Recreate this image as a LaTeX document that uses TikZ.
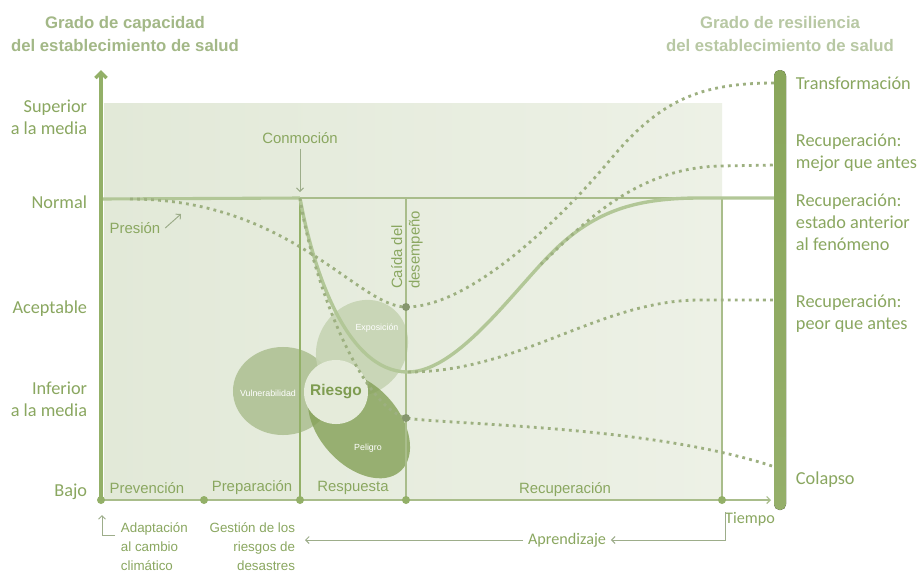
\documentclass[tikz,border=0pt]{standalone}
\usepackage{fontspec}
\setmainfont{Carlito}
\newfontfamily\robofont{Liberation Sans}
\usetikzlibrary{arrows.meta, shapes.geometric}

\definecolor{axisgreen}{HTML}{93B068}
\definecolor{textgreen}{HTML}{8AA760}
\definecolor{titlegreen}{HTML}{A3B887}
\definecolor{titlepale}{HTML}{B8C8A4}
\definecolor{dotgreen}{HTML}{9DB080}
\definecolor{curvegreen}{HTML}{B2C797}
\definecolor{thingreen}{HTML}{A9BD8B}
\definecolor{arrowgray}{HTML}{9DAD8A}
\definecolor{bgleft}{HTML}{E2E9D8}
\definecolor{bgright}{HTML}{EDF1E6}
\definecolor{vulngreen}{HTML}{B4C59B}
\definecolor{expogreen}{HTML}{C6D4B3}
\definecolor{peligreen}{HTML}{84A056}
\definecolor{riesgofill}{HTML}{E5EBDA}
\definecolor{riesgotext}{HTML}{7E9C50}
\definecolor{bartop}{HTML}{89A65B}
\definecolor{barmid}{HTML}{BDCEA6}
\definecolor{barbot}{HTML}{95AF6A}

\tikzset{
	scalelabel/.style = {font = \fontsize{13}{15.6}\selectfont, text = textgreen, align = right, anchor = east},
	outcome/.style = {font = \fontsize{13}{15.6}\selectfont, text = textgreen, align = left, anchor = west},
	phasename/.style = {font = \robofont\fontsize{10.6}{12.5}\selectfont, text = textgreen},
	headline/.style = {font = \robofont\bfseries\fontsize{11.9}{16.3}\selectfont, align = center},
	notetext/.style = {font = \robofont\fontsize{9.5}{13.5}\selectfont, text = textgreen},
	learntext/.style = {font = \fontsize{11.5}{13}\selectfont, text = textgreen},
	pathdot/.style = {dotgreen, line width = 2pt, dash pattern = on 2pt off 3pt},
	thinline/.style = {thingreen, line width = 0.8pt},
	labelarrow/.style = {arrowgray, line width = 0.7pt},
	tickdot/.style = {circle, fill = axisgreen, inner sep = 0pt, minimum size = 0.2cm},
	blob/.style = {ellipse, inner sep = 0pt},
	blobtext/.style = {font = \robofont\fontsize{6.3}{7}\selectfont, text = white}
}

\begin{document}
\begin{tikzpicture}[x = 0.025cm, y = -0.025cm, > = {Straight Barb[length = 2.5pt, width = 5pt]}]

	% Canvas and chart area
	
	\fill [white] (0, 0) rectangle (920, 574);
	\useasboundingbox (0, 0) rectangle (920, 574);
	\fill [left color = bgleft, right color = bgright] (104, 103) rectangle (722, 500);
	
	% Risk diagram
	
	\node [blob, fill = vulngreen, minimum width = 2.5cm, minimum height = 2.2cm] (vuln) at (283, 391) {};
	\node [blob, fill = expogreen, fill opacity = 0.9, minimum width = 2.5cm, minimum height = 2.2cm, rotate = 55] (expo) at (362, 348) {};
	\node [blob, fill = peligreen, fill opacity = 0.8, minimum width = 3.1cm, minimum height = 2cm, rotate = -48] (peli) at (359, 425) {};
	\node [circle, fill = riesgofill, minimum size = 1.6cm, inner sep = 0pt, font = \robofont\bfseries\fontsize{11}{12}\selectfont, text = riesgotext] (riesgo) at (336, 392) {Riesgo};
	\node [blobtext] (vulntext) at (268, 393) {Vulnerabilidad};
	\node [blobtext] (expotext) at (377, 328) {Exposición};
	\node [blobtext] (pelitext) at (368, 448) {Peligro};
	
	% Axes and phase dividers
	
	\foreach \X/\T in {101/a, 204/b, 300/c, 406/d, 722/e}
		\coordinate (base\T) at (\X, 500);
	
	\coordinate (captop) at (101, 70);
	\coordinate (timeend) at (771, 500);
	\coordinate (normalstart) at (101, 199);
	\coordinate (shock) at (300, 198);
	\coordinate (droptop) at (406, 198);
	\coordinate (endtop) at (722, 198);
	
	\draw [thinline] (shock) -- (endtop);
	\draw [thinline] (droptop) -- (based);
	\draw [thinline] (endtop) -- (basee);
	\draw [thinline, ->] (basea) -- (timeend);
	\draw [curvegreen, line width = 2.2pt] (normalstart) -- (shock);
	\draw [axisgreen, line width = 2pt] (shock) -- (basec);
	\draw [axisgreen, line width = 2.4pt, -{Straight Barb[length = 4pt, width = 8pt]}] (basea) -- (captop);
	
	% Capacity curves
	
	\coordinate (presslow) at (406, 307);
	\coordinate (collapselow) at (406, 418);
	
	\draw [curvegreen, line width = 2.4pt] (shock) .. controls (312, 265) and (345, 372) .. (408, 372) coordinate (lowpoint)
		.. controls (460, 372) and (520, 281) .. (560, 245) coordinate [pos = 0.85] (split)
		.. controls (600, 209) and (640, 198) .. (700, 198) -- (775, 198);
	
	\draw [pathdot] (130, 199) .. controls (290, 199) and (358, 307) .. (presslow)
		.. controls (470, 307) and (560, 220) .. (610, 160) .. controls (660, 100) and (700, 83) .. (775, 83);
	\draw [pathdot] (split) .. controls (575, 233) and (630, 168) .. (720, 166) -- (775, 165);
	\draw [pathdot] (lowpoint) .. controls (520, 372) and (600, 300) .. (700, 300) -- (775, 300);
	\draw [pathdot] (shock) .. controls (312, 280) and (360, 405) .. (collapselow) .. controls (450, 425) and (650, 425) .. (775, 467);
	
	\foreach \T in {a, b, c, d, e}
		\node [tickdot] (tick\T) at (base\T) {};
	\node [tickdot, fill = dotgreen!85!black] (pressdot) at (presslow) {};
	\node [tickdot, fill = dotgreen!85!black] (collapsedot) at (collapselow) {};
	
	% Resilience bar
	
	\fill [top color = bartop, middle color = barmid, bottom color = barbot, rounded corners = 4pt] (774, 70) rectangle (786, 510);
	
	% Titles
	
	\node [headline, text = titlegreen] (captitle) at (125, 34) {Grado de capacidad\\del establecimiento de salud};
	\node [headline, text = titlepale] (restitle) at (780, 34) {Grado de resiliencia\\del establecimiento de salud};
	
	% Capacity levels
	
	\node [scalelabel] (superior) at (92, 117) {Superior\\a la media};
	\node [scalelabel] (normal) at (92, 202) {Normal};
	\node [scalelabel] (aceptable) at (92, 309) {Aceptable};
	\node [scalelabel] (inferior) at (92, 399) {Inferior\\a la media};
	\node [scalelabel] (bajo) at (92, 492) {Bajo};
	
	% Outcomes
	
	\node [outcome] (transf) at (791, 83) {Transformación};
	\node [outcome] (mejor) at (791, 153) {Recuperación:\\mejor que antes};
	\node [outcome] (igual) at (791, 222) {Recuperación:\\estado anterior\\al fenómeno};
	\node [outcome] (peor) at (791, 314) {Recuperación:\\peor que antes};
	\node [outcome] (colapso) at (791, 480) {Colapso};
	
	% Phases and events
	
	\node [phasename] (prev) at (147, 488) {Prevención};
	\node [phasename] (prep) at (252, 488) {Preparación};
	\node [phasename] (resp) at (353, 488) {Respuesta};
	\node [phasename] (recu) at (565, 490) {Recuperación};
	
	\node [phasename] (shocklabel) at (300, 138) {Conmoción};
	\coordinate (shocktip) at (300, 192);
	\draw [labelarrow, ->] (shocklabel) -- (shocktip);
	
	\node [phasename] (presslabel) at (135, 228) {Presión};
	\coordinate (presstip) at (181, 214);
	\draw [labelarrow, ->] (presslabel.east) -- (presstip);
	
	\node [phasename, rotate = 90, align = left] (droplabel) at (407, 250) {Caída del\\desempeño};
	
	% Notes below the time axis
	
	\node [notetext, anchor = north west, align = left] (adapt) at (116, 518) {Adaptación\\al cambio\\climático};
	\node [notetext, anchor = north east, align = right] (gestion) at (300, 518) {Gestión de los\\riesgos de\\desastres};
	\coordinate (adaptfoot) at (115, 535);
	\coordinate (adapttip) at (102, 515);
	\draw [labelarrow, ->] (adaptfoot) -| (adapttip);
	
	\node [learntext] (tiempo) at (750, 519) {Tiempo};
	\node [learntext] (learn) at (567, 540) {Aprendizaje};
	\coordinate (learnstart) at (725, 512);
	\coordinate (learnend) at (305, 540);
	\draw [labelarrow, ->] (learnstart) |- (learn.east);
	\draw [labelarrow, ->] (learn.west) -- (learnend);

\end{tikzpicture}
\end{document}
